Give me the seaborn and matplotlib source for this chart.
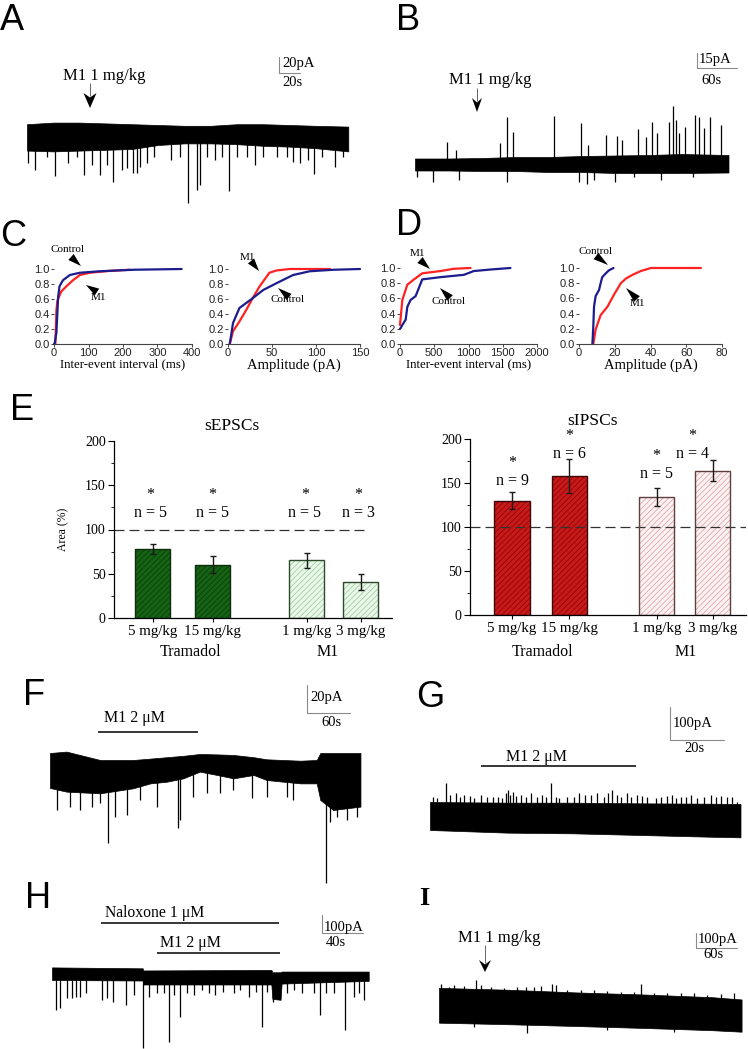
import numpy as np
import pandas as pd
import matplotlib
matplotlib.use("Agg")
import matplotlib.pyplot as plt
from matplotlib.patches import Polygon, Rectangle
from matplotlib.lines import Line2D
from matplotlib.ticker import MultipleLocator, FormatStrFormatter
import seaborn as sns

# ======================= DATA =======================
# ---- Panel A trace (time s, current pA)
a_env_t = [0, 25, 50, 75, 100, 125, 150, 175, 200, 225, 250, 275, 306]
a_env_hi = [1, 3, 3, 2, 1, 0, -1, -1, 1, 1, 0, -1, -2]
a_env_lo = [-32, -33, -32, -31, -30, -25, -23, -23, -24, -26, -27, -29, -33]
a_ev_t = [1.3, 7.6, 18.7, 26.7, 39.4, 47.3, 54.3, 61.6, 69.5, 76.5, 82.2, 90.2, 95.6, 100.6,
          104.4, 107.6, 114.0, 121.3, 136.8, 145.7, 153.7, 161.6, 164.8, 171.1, 179.0, 185.4,
          192.7, 200.3, 209.2, 217.1, 225.1, 237.8, 247.3, 253.7, 260.0, 267.9, 273.3, 280.6,
          293.3, 301.3]
a_ev_v = [-48, -56, -40, -64, -48, -40, -62, -50, -63, -50, -71, -56, -54, -60, -60, -52, -48,
          -40, -44, -40, -97, -81, -75, -40, -44, -40, -82, -40, -40, -50, -40, -40, -40, -46,
          -48, -44, -61, -40, -52, -40]

# ---- Panel B trace
b_env_t = [0, 50, 100, 150, 200, 250, 300, 350, 400, 470]
b_env_hi = [4.5, 4.5, 5, 6, 6, 7, 7.5, 8, 9, 8]
b_env_lo = [-7.5, -7.5, -8, -8, -9, -9, -10, -10, -10, -9.5]
b_ev_t = [48.5, 61, 127.5, 137.5, 146.5, 208.5, 248.5, 260, 286, 303.5, 311, 335, 346, 355,
          362.5, 381, 387, 391.5, 396, 405, 419.5, 426, 433.5, 442.5, 458.5,
          2.5, 27.5, 66, 137.5, 246, 258.5, 268.5, 300, 328.5, 368.5, 417.5]
b_ev_v = [21.3, 13, 19.7, 45.7, 31.3, 47, 40.3, 18, 28, 27, 23, 33.7, 26.3, 41.3, 30.3, 41.3,
          57, 43, 29.7, 36.3, 48, 46.3, 34.7, 46.3, 38,
          -13.7, -18.7, -17, -18.7, -18.7, -21, -17, -18.7, -13.7, -17, -13.7]

# ---- Panel C cumulative distributions (control vs M1)
c_iei_ctrl_x = [0, 2, 7, 12, 16, 26, 46, 75, 133, 230, 370]
c_iei_ctrl_y = [0, 0.01, 0.15, 0.63, 0.77, 0.85, 0.92, 0.95, 0.97, 0.99, 1.0]
c_iei_m1_x = [4, 7, 10, 21, 36, 55, 75, 104, 162, 220]
c_iei_m1_y = [0, 0.45, 0.58, 0.70, 0.77, 0.85, 0.92, 0.95, 0.975, 0.99]
c_amp_ctrl_x = [2, 5.7, 13, 28, 40, 55, 74, 93, 120, 150]
c_amp_ctrl_y = [0, 0.28, 0.48, 0.61, 0.72, 0.81, 0.92, 0.97, 0.99, 1.0]
c_amp_m1_x = [2, 5.7, 13, 21, 28, 36, 44, 47, 55, 70, 116]
c_amp_m1_y = [0, 0.17, 0.30, 0.46, 0.61, 0.77, 0.90, 0.95, 0.98, 1.0, 1.0]

# ---- Panel D cumulative distributions
d_iei_ctrl_x = [0, 10, 34, 83, 107, 155, 228, 277, 325, 592, 932, 1078, 1320, 1612]
d_iei_ctrl_y = [0.2, 0.21, 0.25, 0.32, 0.49, 0.58, 0.63, 0.74, 0.85, 0.88, 0.91, 0.96, 0.98, 1.0]
d_iei_m1_x = [0, 34, 107, 204, 325, 592, 786, 1029]
d_iei_m1_y = [0.25, 0.58, 0.78, 0.85, 0.93, 0.96, 0.99, 1.0]
d_amp_ctrl_x = [7.5, 8, 8.4, 9.3, 11.2, 12.1, 13, 15, 16.8, 19.3]
d_amp_ctrl_y = [0, 0.23, 0.49, 0.63, 0.71, 0.8, 0.88, 0.93, 0.97, 1.0]
d_amp_m1_x = [8, 9.3, 12.1, 15.9, 19.6, 23.4, 26.2, 29.9, 34.6, 40.2, 68.2]
d_amp_m1_y = [0, 0.19, 0.38, 0.49, 0.65, 0.8, 0.86, 0.91, 0.96, 1.0, 1.0]

# ---- Panel E bar charts (Area, % of control)
doses = ["5 mg/kg", "15 mg/kg", "1 mg/kg", "3 mg/kg"]
drugs = ["Tramadol", "M1"]
epsc_mean = [78, 60, 65, 41]
epsc_sem = [6, 9.5, 8.5, 9]
epsc_n = [5, 5, 5, 3]
ipsc_mean = [130, 158, 134, 164]
ipsc_sem = [10, 19, 10, 12]
ipsc_n = [9, 6, 5, 4]
baseline_pct = 100

# ---- Panel F trace
f_env_t = [0, 23, 70, 116, 140, 163, 186, 209, 233, 256, 284, 302, 349, 372, 377, 395, 433]
f_env_hi = [0, 1, -5, -5, -4, -3, -2, -0.7, -1, -1.4, -3, -4.5, -5.5, -5, 0, 0, 0]
f_env_lo = [-25, -27.6, -28.8, -25.2, -21.7, -20.5, -18.1, -13.3, -15.7, -18.1, -15.7, -19.3,
            -21.7, -21.7, -33.6, -40.7, -38.3]
f_ev_t = [9.3, 27.9, 41.9, 58.1, 69.8, 81.4, 90.7, 107, 125.6, 148.8, 179.1, 181.4, 199.1,
          218.6, 237.2, 255.8, 281.4, 302.3, 330.2, 339.5, 385.1, 390.7, 400, 414, 427.9]
f_ev_v = [-40.7, -38.3, -40.7, -38.3, -36, -64.5, -45.5, -44.3, -33.6, -38.3, -53.8, -47.9,
          -31.2, -28.8, -28.8, -26.4, -32.4, -31.2, -31.2, -33.6, -93, -49, -45.5, -47.9, -45.5]

# ---- Panel G trace
g_env_t = [0, 29, 53, 78, 103, 115]
g_env_hi = [-6, -8, -8, -10, -11, -12]
g_env_lo = [-90, -98, -100, -105, -110, -112]
g_ev_t = [1.2, 2.7, 5.8, 7.4, 9.5, 11.1, 12.6, 14.8, 16.3, 18.8, 21.2, 23.5, 25.2, 26.8, 28.0,
          28.9, 29.6, 30.9, 31.7, 33.6, 35.4, 37.3, 39.8, 41.6, 42.8, 44.7, 46.5, 47.8, 50.6,
          53.3, 55.2, 57.3, 59.8, 61.7, 64.4, 65.9, 67.5, 69.1, 70.9, 72.8, 74.6, 76.8, 78.6,
          80.5, 83.6, 85.7, 87.7, 89.5, 91.0, 92.8, 94.7, 96.8, 98.8, 101.5, 104.0, 105.8,
          107.9, 110.1, 112.0, 113.8]
g_ev_v = [10, 5, 50, 15, 20, 10, 15, 12, 5, 15, 10, 10, 10, 5, 20, 30, 15, 25, 12, 15, 10, 20,
          10, 15, 10, 50, 10, 5, 10, 10, 20, 15, 15, 20, 10, 20, 30, 15, 10, 20, 10, 15, 12, 10,
          5, 10, 12, 15, 5, 10, 10, 15, 5, 10, 15, 10, 12, 8, 10, -5]

# ---- Panel H trace
h_env_t = [0, 88.5, 89, 214, 215, 223, 224, 309]
h_env_hi = [5, 0, -12, -9, -22, -22, -18, -18]
h_env_lo = [-65, -68, -90, -90, -170, -175, -85, -70]
h_ev_t = [4.2, 7.5, 14.6, 19.5, 23.7, 27.6, 33.5, 48.8, 53.7, 59.5, 72.5, 79.7, 88.8, 94.3,
          102.4, 108.9, 113.8, 118.7, 125.2, 131.7, 138.2, 146.3, 152.8, 159.3, 166.8, 177.2,
          183.1, 191.9, 199.3, 204.9, 209.8, 215.6, 219.5, 229.3, 235.8, 243.9, 255.3, 261.1,
          267.6, 274.8, 286.2, 294.3, 299.2, 304.1]
h_ev_v = [-231, -222, -167, -167, -157, -157, -139, -176, -167, -185, -204, -148, -444, -157,
          -139, -139, -407, -148, -269, -139, -148, -120, -139, -148, -130, -139, -120, -157,
          -130, -324, -130, -185, -167, -139, -120, -139, -139, -259, -139, -139, -343, -157,
          -139, -176]

# ---- Panel I trace
i_env_t = [0, 100, 200, 300, 400, 443]
i_env_hi = [-8, -20, -38, -52, -70, -85]
i_env_lo = [-240, -250, -262, -275, -290, -300]
i_ev_t = [2.4, 14.6, 22, 36.6, 53.7, 61, 76.6, 95, 114.6, 126.8, 139, 148.8, 165.9, 170.7,
          187.8, 207.3, 226.8, 246.3, 265.9, 285.4, 295.1, 314.6, 334.1, 353.7, 373.2, 392.7,
          412.2, 431.7, 51.2, 129.3, 246.3, 343.9]
i_ev_v = [18, 0, 11, 4, 44, 11, -4, -11, -4, 0, 0, 4, 18, 11, -22, -22, -22, -27, -33, -33, 18,
          -44, -44, -44, -40, -56, -49, -44, -267, -311, -289, -300]

# ======================= STYLE / LAYOUT =======================
SERIF = ['Liberation Serif', 'DejaVu Serif']
SANS = ['Liberation Sans', 'DejaVu Sans']
NAVY = '#1c1c8e'
RED = '#ff2222'

sns.set_theme(style="ticks", rc={'axes.edgecolor': 'black', 'text.color': 'black',
                                 'xtick.color': 'black', 'ytick.color': 'black',
                                 'axes.labelcolor': 'black'})
plt.rcParams['font.family'] = SERIF
plt.rcParams['hatch.linewidth'] = 0.6

W, H = 748, 1049
fig = plt.figure(figsize=(W / 100, H / 100), dpi=100)
fig.patch.set_facecolor('white')


def ax_px(x0, y0, x1, y1):
    a = fig.add_axes([x0 / W, 1 - y1 / H, (x1 - x0) / W, (y1 - y0) / H])
    a.patch.set_alpha(0)
    return a


def ftxt(x, y, s, size, ha='center', va='center', family=None, **kw):
    fig.text(x / W, 1 - y / H, s, fontsize=size, ha=ha, va=va,
             family=family or SERIF, **kw)


def fline(xs, ys, color='black', lw=1.1):
    fig.add_artist(Line2D([x / W for x in xs], [1 - y / H for y in ys], color=color, lw=lw,
                          solid_capstyle='butt'))


def fpoly(pts, color='black'):
    fig.add_artist(Polygon([(x / W, 1 - y / H) for x, y in pts], closed=True,
                           facecolor=color, edgecolor='none'))


def tri(tail, tip, w=4):
    tx, ty = tail
    px, py = tip
    dx, dy = px - tx, py - ty
    L = np.hypot(dx, dy)
    nx, ny = -dy / L, dx / L
    fpoly([(tx + nx * w, ty + ny * w), (tx - nx * w, ty - ny * w), (px, py)])


def drop_arrow(x, y_top, y_head, y_tip, w):
    fline([x, x], [y_top, y_head + 3], color='#666666', lw=0.7)
    fpoly([(x - w, y_head), (x, y_head + 4.5), (x + w, y_head), (x, y_tip)])


def letter(x, y, s, size=26, family=None, weight='normal'):
    ftxt(x, y, s, size, ha='left', va='baseline', family=family or SANS, weight=weight)


def trace(x0, x1, yzero, sx, sy, ytop, ybot, env_t, env_hi, env_lo, ev_t, ev_v,
          bar_xy, bar_pa, bar_s):
    ax = ax_px(x0, ytop, x1, ybot)
    ax.set_xlim(0, (x1 - x0) / sx)
    ax.set_ylim(-(ybot - yzero) / sy, (yzero - ytop) / sy)
    ax.axis('off')
    ax.fill_between(env_t, env_lo, env_hi, facecolor='black', edgecolor='black', lw=0.5,
                    clip_on=False)
    mid = (np.asarray(env_hi, float) + np.asarray(env_lo, float)) / 2
    base = np.interp(ev_t, env_t, mid)
    ax.vlines(ev_t, base, ev_v, color='black', lw=0.9, clip_on=False)
    bx = (bar_xy[0] - x0) / sx
    by = (yzero - bar_xy[1]) / sy
    ax.plot([bx, bx, bx + bar_s], [by + bar_pa, by, by], color='#8a8a8a', lw=0.8,
            clip_on=False)
    return ax


def cdf(box, xmax, xstep, cx, cy, mx, my, xlabel, lsize, lpad):
    ax = ax_px(*box)
    sns.lineplot(x=mx, y=my, color=RED, linewidth=1.6, estimator=None, sort=False, ax=ax)
    sns.lineplot(x=cx, y=cy, color=NAVY, linewidth=1.6, estimator=None, sort=False, ax=ax)
    for ln in ax.lines:
        ln.set_clip_on(False)
    ax.set_xlim(0, xmax)
    ax.set_ylim(0, 1)
    ax.set_xticks(np.arange(0, xmax + 1, xstep))
    ax.set_yticks(np.arange(0, 1.01, 0.2))
    ax.yaxis.set_major_formatter(FormatStrFormatter('%.1f'))
    ax.xaxis.set_major_formatter(FormatStrFormatter('%d'))
    for s in ['top', 'right', 'left']:
        ax.spines[s].set_visible(False)
    ax.spines['bottom'].set_linewidth(0.8)
    ax.spines['bottom'].set_color('#444444')
    ax.tick_params(length=2, width=0.6, pad=1, labelsize=8, colors='#222222')
    for lab in ax.get_xticklabels() + ax.get_yticklabels():
        lab.set_family(SANS)
    ax.set_xlabel(xlabel, fontsize=lsize, labelpad=lpad, family=SERIF)
    ax.set_ylabel('')
    return ax


def bars(box, xlim, pos, wrel, means, sems, ns, faces, hcols, edges, dash_end,
         star_y, n_y, lab_dx, ylabel):
    ax = ax_px(*box)
    df = pd.DataFrame({'pos': pos, 'value': means, 'dose': doses})
    sns.barplot(data=df, x='pos', y='value', hue='dose',
                palette=dict(zip(doses, faces)), native_scale=True, dodge=False,
                width=wrel, errorbar=None, legend=False, ax=ax)
    posa = np.asarray(pos)
    for p in list(ax.patches):
        cx = p.get_x() + p.get_width() / 2
        i = int(np.argmin(np.abs(posa - cx)))
        p.set_hatch('//////')
        p.set_edgecolor(hcols[i])
        p.set_linewidth(0)
        ax.add_patch(Rectangle((p.get_x(), p.get_y()), p.get_width(), p.get_height(),
                               fill=False, edgecolor=edges[i], lw=1.0, zorder=3))
    ax.errorbar(pos, means, yerr=sems, fmt='none', ecolor='#1a1a1a', elinewidth=1.0,
                capsize=2.5, capthick=1.0, zorder=4)
    ax.plot([xlim[0], dash_end], [baseline_pct, baseline_pct], color='#333333', lw=0.9,
            ls=(0, (8, 4)), zorder=1)
    for i in range(len(pos)):
        ax.text(pos[i] + lab_dx[i], star_y[i], '*', ha='center', va='baseline',
                fontsize=11.5, clip_on=False)
        ax.text(pos[i] + lab_dx[i], n_y[i], f'n = {ns[i]}', ha='center', va='baseline',
                fontsize=11.5, clip_on=False)
    ax.set_xlim(*xlim)
    ax.set_ylim(0, 200)
    ax.set_yticks([0, 50, 100, 150, 200])
    ax.yaxis.set_minor_locator(MultipleLocator(25))
    ax.set_xticks(pos)
    ax.set_xticklabels(doses)
    ax.tick_params(axis='x', length=3, width=0.8, pad=2, labelsize=10.8)
    ax.tick_params(axis='y', which='major', length=4, width=0.8, pad=2, labelsize=10)
    ax.tick_params(axis='y', which='minor', length=2, width=0.6)
    for s in ['top', 'right']:
        ax.spines[s].set_visible(False)
    for s in ['left', 'bottom']:
        ax.spines[s].set_linewidth(0.9)
    ax.set_xlabel('')
    ax.set_ylabel(ylabel, fontsize=8.5, labelpad=11)
    return ax


# ======================= PANEL A =======================
letter(0, 30, 'A')
trace(27, 348, 125, 1.05, 0.8, 110, 210, a_env_t, a_env_hi, a_env_lo, a_ev_t, a_ev_v,
      (279, 73), 20, 20)
drop_arrow(90, 83, 93, 108, 6.5)
ftxt(104, 76, 'M1 1 mg/kg', 12)
ftxt(282, 63, '20pA', 10.5, ha='left')
ftxt(282, 82, '20s', 10.5, ha='left')

# ======================= PANEL B =======================
letter(396, 30, 'B')
trace(415, 728, 163, 0.667, 1.0, 100, 185, b_env_t, b_env_hi, b_env_lo, b_ev_t, b_ev_v,
      (697, 68), 15, 60)
drop_arrow(477, 88, 98, 112, 5)
ftxt(490, 80, 'M1 1 mg/kg', 12)
ftxt(699, 60, '15pA', 10.5, ha='left')
ftxt(711, 80, '60s', 10.5)

# ======================= PANEL C =======================
letter(0, 246, 'C')
cdf((54, 269, 192, 344), 400, 100, c_iei_ctrl_x, c_iei_ctrl_y, c_iei_m1_x, c_iei_m1_y,
    'Inter-event interval (ms)', 9.3, 0.3)
cdf((228, 269, 360, 344), 150, 50, c_amp_ctrl_x, c_amp_ctrl_y, c_amp_m1_x, c_amp_m1_y,
    'Amplitude (pA)', 10.5, 0.5)
ftxt(68, 250, 'Control', 8)
tri((71, 257), (81, 266))
ftxt(98, 298, 'M1', 8)
tri((97, 292), (86, 285))
ftxt(247, 257, 'M1', 8)
tri((251, 261), (259, 271))
ftxt(288, 300, 'Control', 8)
tri((289, 297), (278, 288))

# ======================= PANEL D =======================
letter(396, 235, 'D')
cdf((400, 268, 537, 344), 2000, 500, d_iei_ctrl_x, d_iei_ctrl_y, d_iei_m1_x, d_iei_m1_y,
    'Inter-event interval (ms)', 9.3, 0.3)
cdf((579, 268, 722, 344), 80, 20, d_amp_ctrl_x, d_amp_ctrl_y, d_amp_m1_x, d_amp_m1_y,
    'Amplitude (pA)', 10.5, 0.5)
ftxt(417, 254, 'M1', 8)
tri((420, 260), (430, 269))
ftxt(449, 301, 'Control', 8)
tri((450, 298), (440, 288))
ftxt(596, 252, 'Control', 8)
tri((596, 256), (608, 265))
ftxt(637, 303, 'M1', 8)
tri((637, 299), (626, 288))

# ======================= PANEL E =======================
letter(10, 420, 'E')
pos_l = [0, 1, 2.57, 3.47]
bars((114, 441, 392, 618), (-0.642, 3.99), pos_l, 0.648, epsc_mean, epsc_sem, epsc_n,
     ['#0a6e0a', '#0a6e0a', '#eaf8ea', '#eaf8ea'],
     ['#044304', '#044304', '#9bd69b', '#9bd69b'],
     ['#0d2d0d', '#0d2d0d', '#2f4a2f', '#2f4a2f'],
     3.54, [134.3] * 4, [114.0] * 4, [-0.04, 0, -0.03, -0.04], 'Area (%)')
ftxt(232, 426, 'sEPSCs', 12.5)
ftxt(190, 652, drugs[0], 11.5)
ftxt(328, 652, drugs[1], 11.5)

pos_r = [0, 1, 2.535, 3.518]
bars((470, 439, 746, 615), (-0.737, 4.105), pos_r, 0.625, ipsc_mean, ipsc_sem, ipsc_n,
     ['#e00000', '#e00000', '#fdf1f1', '#fdf1f1'],
     ['#a00000', '#a00000', '#e6a6a6', '#e6a6a6'],
     ['#3a0808', '#3a0808', '#5e4040', '#5e4040'],
     4.105, [168.2, 198.9, 176.1, 198.9], [147.7, 178.4, 155.7, 178.4],
     [0, 0, 0, -0.36], '')
ftxt(592, 421, 'sIPSCs', 12.5)
ftxt(543, 652, drugs[0], 11.5)
ftxt(686, 652, drugs[1], 11.5)

# ======================= PANEL F =======================
letter(23, 705, 'F')
trace(50, 360, 753, 0.717, 1.4, 740, 885, f_env_t, f_env_hi, f_env_lo, f_ev_t, f_ev_v,
      (307, 713), 20, 60)
ftxt(134, 718, 'M1 2 \u03bcM', 11.5)
fline([98, 198], [732, 732])
ftxt(310, 697, '20pA', 10.5, ha='left')
ftxt(331, 723, '60s', 10.5)

# ======================= PANEL G =======================
letter(416, 707, 'G')
trace(430, 740, 800, 2.7, 1 / 3, 780, 840, g_env_t, g_env_hi, g_env_lo, g_ev_t, g_ev_v,
      (670, 740), 100, 20)
ftxt(536, 757, 'M1 2 \u03bcM', 11.5)
fline([481, 636], [766, 766])
ftxt(673, 723, '100pA', 10.5, ha='left')
ftxt(694, 749, '20s', 10.5)

# ======================= PANEL H =======================
letter(25, 908, 'H')
trace(52, 368, 968.3, 1.025, 0.18, 960, 1049, h_env_t, h_env_hi, h_env_lo, h_ev_t, h_ev_v,
      (322, 933), 100, 40)
ftxt(155, 913, 'Naloxone 1 \u03bcM', 11.3)
fline([101, 279], [923, 923])
ftxt(190, 943, 'M1 2 \u03bcM', 11.5)
fline([157, 280], [953, 953])
ftxt(324, 927, '100pA', 10.5, ha='left')
ftxt(336, 943, '40s', 10.5)

# ======================= PANEL I =======================
letter(419, 905, 'I', size=19, family=SERIF, weight='bold')
trace(439, 742, 986.7, 0.683, 0.15, 975, 1035, i_env_t, i_env_hi, i_env_lo, i_ev_t, i_ev_v,
      (696, 948), 100, 60)
drop_arrow(485, 945, 960, 972, 6)
ftxt(499, 938, 'M1 1 mg/kg', 12)
ftxt(698, 939, '100pA', 10.5, ha='left')
ftxt(713, 955, '60s', 10.5)

fig.savefig('out.png', dpi=100, facecolor='white')
